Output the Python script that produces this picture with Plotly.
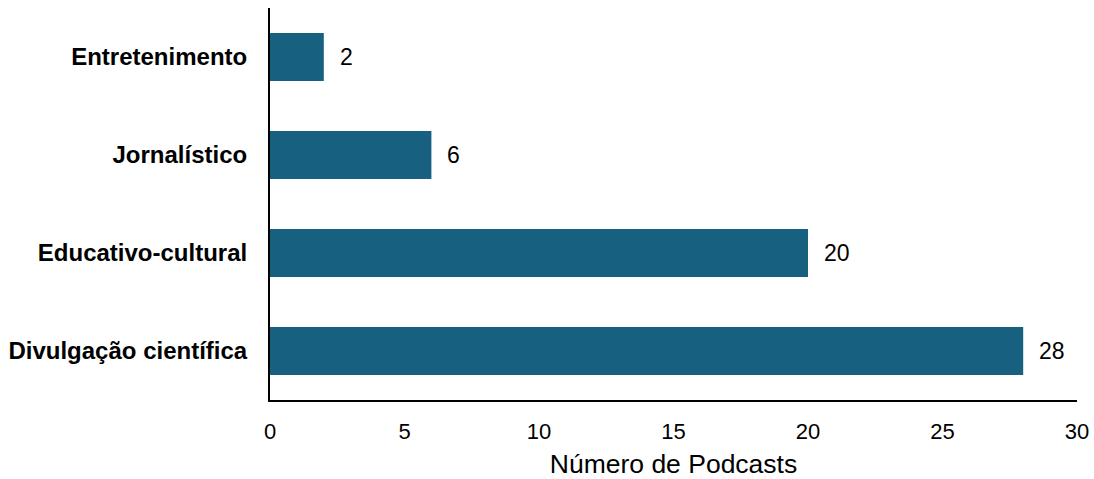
import plotly.graph_objects as go

categories = ["Divulgação científica", "Educativo-cultural", "Jornalístico", "Entretenimento"]
values = [28, 20, 6, 2]
x_ticks = [0, 5, 10, 15, 20, 25, 30]

bar_color = "#17607F"

fig = go.Figure(go.Bar(
    y=categories,
    x=values,
    orientation="h",
    marker=dict(color=bar_color, line=dict(width=0)),
    width=0.49,
    cliponaxis=False,
))

for c, v in zip(categories, values):
    fig.add_annotation(
        x=v, y=c, text=str(v), showarrow=False,
        xanchor="left", xshift=14,
        font=dict(family="Liberation Sans, Arial", size=23, color="black"),
    )

fig.update_layout(
    width=1094, height=479,
    margin=dict(l=270, r=17, t=8, b=79, autoexpand=False),
    paper_bgcolor="white",
    plot_bgcolor="white",
    showlegend=False,
    font=dict(family="Liberation Sans, Arial", color="black"),
    xaxis=dict(
        range=[0, 30],
        tickvals=x_ticks,
        ticktext=[str(t) for t in x_ticks],
        showgrid=False,
        zeroline=False,
        showline=True,
        linecolor="black",
        linewidth=2,
        ticks="",
        automargin=False,
        ticklabelstandoff=11,
        tickfont=dict(size=22, color="black"),
        title=dict(text="Número de Podcasts", font=dict(size=26.5, color="black"), standoff=15),
    ),
    yaxis=dict(
        range=[-0.5, 3.5],
        showgrid=False,
        zeroline=False,
        showline=True,
        linecolor="black",
        linewidth=2,
        ticks="",
        automargin=False,
        ticklabelstandoff=16,
        tickfont=dict(size=24, color="black", weight="bold"),
    ),
)

fig.write_html("out.html", post_script="document.body.style.margin='0';",
               config={"displayModeBar": False})
